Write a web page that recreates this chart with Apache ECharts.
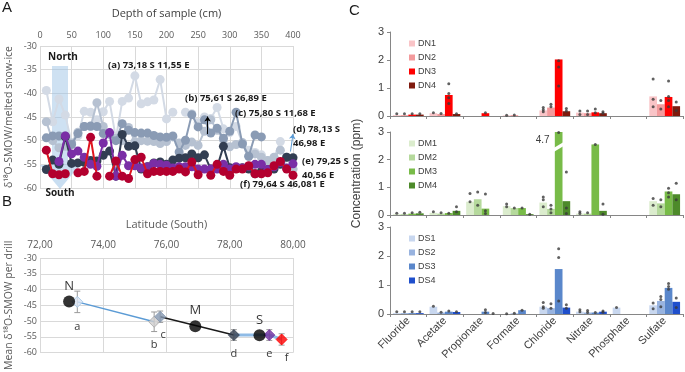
<!DOCTYPE html>
<html>
<head>
<meta charset="utf-8">
<script src="https://cdn.jsdelivr.net/npm/echarts@6/dist/echarts.min.js"></script>
<style>
html,body{margin:0;padding:0;background:#fff}
#main{width:685px;height:372px}
</style>
</head>
<body>
<div id="main"></div>
<script>
// ---- panel A: d18O profiles per drill (depth in cm)
var depths = [10,20,30,40,50,60,70,80,90,100,110,120,130,140,150,160,170,180,190,200,
              210,220,230,240,250,260,270,280,290,300,310,320,330,340,350,360,370,380,390,400];
var drillA = [-39.4,-46.0,-41.2,-44.6,-50.5,-49.0,-43.8,-44.0,-45.6,-43.9,-41.7,-49.5,-41.7,-41.0,-36.3,-42.2,-41.8,-41.4,-37.1,-45.4,
              -44.0,null,-44.0,-44.3,-46.2,-45.0,-45.3,-43.0,-47.5,-48.3,-47.0,-50.5,-52.0,-52.5,-53.0,-54.2,-53.6,-50.2,-55.8,-56.0];
var drillB = [-46.0,-50.0,-51.5,-51.2,-50.5,-48.2,-47.0,-47.0,-42.0,-47.0,-48.6,-49.5,-50.0,-47.2,-50.2,-50.0,-50.1,-50.2,-50.6,-50.2,
              -49.2,-50.5,-51.0,-50.3,-51.0,-48.0,-45.6,-47.8,-49.8,-51.3,-50.8,-50.4,-53.3,-52.8,-53.5,-54.2,-53.5,-52.0,-53.5,-56.0];
var drillC = [-49.4,-49.0,-49.0,-49.0,-50.8,-48.5,-47.0,-46.9,-47.0,-48.5,-48.6,-50.0,-46.4,-47.8,-48.3,-48.4,-48.4,-48.9,-49.2,-49.3,
              -49.0,-52.4,-49.9,-44.5,-47.1,-45.6,-48.4,-47.4,-49.5,-48.0,-44.0,-50.7,-53.3,-48.8,-49.2,null,null,null,null,null];
var drillD = [-56.1,-54.1,-55.0,-49.2,-54.8,-54.7,-54.6,-54.2,-54.3,-53.1,-52.2,-57.5,-48.7,-51.2,-51.1,-56.0,-55.5,-54.7,-54.5,-55.0,
              -54.1,-53.7,-53.6,-52.8,-53.6,-53.0,-56.0,-55.6,-51.2,-55.7,-55.7,-55.7,-56.0,-57.0,-56.5,-56.1,-56.0,-55.0,-53.5,-53.6];
var drillE = [null,null,-54.4,-49.0,-52.8,-52.2,-53.5,-55.0,-55.4,-50.5,-48.3,-57.5,-53.1,-55.3,-55.3,-55.8,-55.5,-54.8,-55.0,-55.2,
              -55.8,-55.5,-55.5,-55.5,-56.0,-56.0,-56.0,-56.0,-55.0,-56.0,-55.5,-55.8,-55.4,-55.0,-55.0,-56.1,-55.5,-54.6,-55.8,-54.9];
var drillF = [-52.0,-57.0,-57.2,-57.0,null,-56.8,-56.5,-49.3,-57.5,null,-57.5,-54.3,-57.5,-58.0,-54.0,-53.5,-57.0,-56.5,-56.5,-56.5,
              -56.5,-56.0,-56.6,-54.5,-57.2,null,-57.3,-55.0,-56.5,-57.3,-56.0,-56.0,-55.3,-57.0,-57.0,-56.8,-55.3,-54.4,-56.0,-57.3];

// ---- panel B: mean per drill vs latitude
var siteNames = ['a','b','c','d','e','f'];
var siteLat = [73.18,75.61,75.80,78.13,79.25,79.64];
var siteMean = [-43.9,-50.2,-48.6,-54.4,-54.4,-55.8];
var siteErr = [3.4,3.1,1.8,1.7,1.7,1.8];
var zoneNames = ['N','M','S'];
var zoneLat = [72.92,76.91,78.94];
var zoneMean = [-43.8,-51.6,-54.5];

// ---- panel C: ion concentrations (ppm)
var ions = ['Fluoride','Acetate','Propionate','Formate','Chloride','Nitrate','Phosphate','Sulfate'];
var dnNames = ['DN1','DN2','DN3','DN4'];
var dmNames = ['DM1','DM2','DM3','DM4'];
var dsNames = ['DS1','DS2','DS3','DS4'];
var dnBars = [
  [0.03,0.10,0,0.02,0.20,0.12,0,0.70],
  [0.03,0.07,0,0.03,0.30,0.10,0,0.42],
  [0.05,0.75,0.10,0,2.02,0.13,0,0.68],
  [0.05,0.07,0,0,0.17,0.10,0,0.35]
];
var dmBars = [
  [0.03,0.08,0.48,0.32,0.45,0.05,0,0.50],
  [0.03,0.05,0.57,0.25,0.22,0.05,0,0.42],
  [0.05,0.07,0.23,0.25,4.7,2.55,0,0.85],
  [0.06,0.15,0,0.03,0.50,0.15,0,0.75]
];
var dsBars = [
  [0.03,0.25,0,0,0.25,0.08,0.22,0.30],
  [0.03,0.05,0,0.02,0.20,0.05,0,0.45],
  [0.03,0.08,0.08,0.13,1.55,0.05,0,0.90],
  [0.03,0.07,0,0,0.22,0.08,0,0.42]
];
// replicate dots: [ion index, drill index, value]
var dnDots = [[0,0,0.08],[0,1,0.08],[0,2,0.08],[0,3,0.08],[1,0,0.12],[1,1,0.09],[1,2,1.15],[1,2,0.8],[1,2,0.65],[1,2,0.45],[1,3,0.08],
  [2,2,0.12],[3,0,0.03],[3,1,0.04],[4,0,0.3],[4,0,0.22],[4,0,0.15],[4,1,0.42],[4,1,0.33],[4,2,3.1],[4,2,1.97],[4,2,1.75],[4,2,1.07],
  [4,3,0.27],[4,3,0.18],[5,0,0.18],[5,0,0.05],[5,1,0.18],[5,1,0.05],[5,2,0.25],[5,2,0.12],[5,3,0.15],[5,3,0.1],
  [7,0,1.32],[7,0,0.6],[7,0,0.33],[7,1,0.55],[7,1,0.25],[7,2,1.25],[7,2,0.7],[7,2,0.55],[7,2,0.33],[7,3,0.5],[7,3,0.2]];
var dmDots = [[0,0,0.06],[0,1,0.06],[0,2,0.08],[0,3,0.1],[1,0,0.12],[1,1,0.08],[1,2,0.06],[1,3,0.3],[1,3,0.12],
  [2,0,0.78],[2,0,0.48],[2,1,0.83],[2,1,0.35],[2,2,0.76],[2,2,0.15],[2,2,0.05],[3,0,0.4],[3,0,0.3],[3,1,0.25],[3,2,0.25],[3,3,0.03],
  [4,0,0.65],[4,0,0.55],[4,0,0.3],[4,1,0.35],[4,1,0.22],[4,1,0.08],[4,2,2.98],[4,3,1.55],[4,3,0.25],[4,3,0.05],
  [5,0,0.12],[5,0,0.05],[5,1,0.08],[5,2,2.55],[5,3,0.4],[5,3,0.03],
  [7,0,0.6],[7,0,0.35],[7,1,0.55],[7,1,0.3],[7,2,0.97],[7,2,0.8],[7,2,0.65],[7,3,1.15],[7,3,0.55]];
var dsDots = [[0,0,0.08],[0,1,0.08],[0,2,0.08],[0,3,0.08],[1,0,0.27],[1,1,0.06],[1,2,0.1],[1,3,0.08],
  [2,2,0.15],[2,2,0.05],[2,3,0.02],[3,0,0.01],[3,1,0.03],[3,2,0.13],
  [4,0,0.4],[4,0,0.25],[4,0,0.2],[4,1,0.35],[4,1,0.2],[4,2,2.25],[4,2,1.95],[4,2,0.45],[4,3,0.32],[4,3,0.2],
  [5,0,0.15],[5,0,0.08],[5,1,0.12],[5,1,0.05],[5,2,0.05],[5,3,0.1],[5,3,0.06],[6,0,0.22],
  [7,0,0.38],[7,0,0.18],[7,1,0.6],[7,1,0.5],[7,1,0.25],[7,2,1.05],[7,2,0.95],[7,2,0.85],[7,3,0.55],[7,3,0.22]];

var chart = echarts.init(document.getElementById('main'));

var gray = '#595959';
var gridLine = {show: true, lineStyle: {color: '#d9d9d9', width: 1}};
var fontA = 'Open Sans';
var fontC = 'Liberation Sans';

var drillColors = ['#d3dae5','#b6c1d1','#8a9bb4','#323e52','#7a2ea6','#b3002f'];
var lineColors = ['#d3dae5','#b6c1d1','#8a9bb4','#323e52','#7a2ea6','#e0141e'];
var drills = [drillA, drillB, drillC, drillD, drillE, drillF];

var series = [];
drills.forEach(function (arr, k) {
  var s = {
    name: 'drill' + siteNames[k],
    type: 'line',
    xAxisIndex: 0, yAxisIndex: 0,
    data: depths.map(function (d, i) { return [d, arr[i]]; }),
    symbol: 'circle',
    symbolSize: 9,
    itemStyle: {color: drillColors[k]},
    lineStyle: {color: lineColors[k], width: 2},
    z: 2 + k
  };
  if (k === 1) {
    s.markLine = {
      silent: true, symbol: ['none', 'arrow'], symbolSize: 5,
      label: {show: false},
      lineStyle: {color: '#000', width: 1, type: 'solid'},
      data: [[{coord: [265, -48.6]}, {coord: [265, -44.9]}]]
    };
  }
  if (k === 3) {
    s.markLine = {
      silent: true, symbol: ['none', 'arrow'], symbolSize: 5,
      label: {show: false},
      lineStyle: {color: '#5b9bd5', width: 1, type: 'solid'},
      data: [[{coord: [396, -52.3]}, {coord: [400, -48.6]}], [{coord: [396, -54.7]}, {coord: [406, -54.6]}]]
    };
  }
  series.push(s);
});

// panel B lines
function seg(idx) { return idx.map(function (i) { return [siteLat[i], siteMean[i]]; }); }
series.push({type: 'line', xAxisIndex: 1, yAxisIndex: 1, data: seg([0, 1]), showSymbol: false,
  lineStyle: {color: '#5b9bd5', width: 1.5}, z: 2});
series.push({type: 'line', xAxisIndex: 1, yAxisIndex: 1, data: seg([2, 3]), showSymbol: false,
  lineStyle: {color: '#1a1a1a', width: 1.5}, z: 2});
series.push({type: 'line', xAxisIndex: 1, yAxisIndex: 1, data: seg([3, 4, 5]), showSymbol: false,
  lineStyle: {color: '#8fbbe6', width: 3}, z: 2});
series.push({
  type: 'custom', xAxisIndex: 1, yAxisIndex: 1, z: 3,
  data: siteLat.map(function (l, i) { return [l, siteMean[i] - siteErr[i], siteMean[i] + siteErr[i]]; }),
  encode: {x: 0, y: [1, 2]},
  renderItem: function (params, api) {
    var top = api.coord([api.value(0), api.value(2)]);
    var bot = api.coord([api.value(0), api.value(1)]);
    var st = {stroke: '#9a9a9a', lineWidth: 1};
    return {type: 'group', children: [
      {type: 'line', shape: {x1: top[0], y1: top[1], x2: bot[0], y2: bot[1]}, style: st},
      {type: 'line', shape: {x1: top[0] - 3, y1: top[1], x2: top[0] + 3, y2: top[1]}, style: st},
      {type: 'line', shape: {x1: bot[0] - 3, y1: bot[1], x2: bot[0] + 3, y2: bot[1]}, style: st}
    ]};
  }
});
var siteFill = ['#dae3f3','#d0cece','#8497b0','#333f50','#7030a0','#ff0000'];
var siteBorder = ['#9dc3e6','#a6a6a6','#8497b0','#333f50','#7030a0','#ff0000'];
series.push({
  type: 'scatter', xAxisIndex: 1, yAxisIndex: 1, z: 4,
  symbol: 'diamond', symbolSize: 11,
  data: siteLat.map(function (l, i) {
    return {value: [l, siteMean[i]], name: siteNames[i],
      itemStyle: {color: siteFill[i], borderColor: siteBorder[i], borderWidth: 1},
      label: {distance: Math.round(siteErr[i] * 3.5) + 1, offset: [i === 5 ? 5 : (i === 2 ? 3 : 0), 0]}};
  }),
  label: {show: true, position: 'bottom', formatter: '{b}', color: '#000', fontSize: 11, fontFamily: fontA}
});
series.push({
  type: 'scatter', xAxisIndex: 1, yAxisIndex: 1, z: 5,
  symbol: 'circle', symbolSize: 12,
  itemStyle: {color: '#000'},
  data: zoneLat.map(function (l, i) { return {value: [l, zoneMean[i]], name: zoneNames[i]}; }),
  label: {show: true, position: 'top', distance: 3, formatter: '{b}', color: '#000', fontSize: 13, fontFamily: fontA}
});

// panel C bars and dots
var groups = [
  {names: dnNames, bars: dnBars, dots: dnDots, colors: ['#f9c4c7','#f39a9c','#ff0000','#7f1a0e']},
  {names: dmNames, bars: dmBars, dots: dmDots, colors: ['#dbeccd','#b5d99c','#78bb48','#4d8a2a']},
  {names: dsNames, bars: dsBars, dots: dsDots, colors: ['#c8d7ef','#98b3df','#5a87cb','#1f4fcc']}
];
var catGap = 0.16;
var barW = (1 - catGap) / 4;
groups.forEach(function (g, k) {
  g.names.forEach(function (n, j) {
    series.push({
      name: n, type: 'bar', xAxisIndex: 2 + k, yAxisIndex: 2 + k,
      data: g.bars[j], barGap: '0%', barCategoryGap: (catGap * 100) + '%',
      itemStyle: {color: g.colors[j]}, z: 2
    });
  });
  series.push({
    type: 'scatter', xAxisIndex: 5 + k, yAxisIndex: 2 + k, z: 5,
    symbol: 'circle', symbolSize: 3, itemStyle: {color: '#3a3a3a'},
    data: g.dots.map(function (d) {
      return [d[0] + 0.5 + (d[1] - 1.5) * barW, d[2]];
    })
  });
});

var gridsC = [
  {left: 390, top: 32, width: 293, height: 84},
  {left: 390, top: 132, width: 293, height: 83},
  {left: 390, top: 227, width: 293, height: 87}
];

var xAxes = [
  {gridIndex: 0, type: 'value', position: 'top', min: 0, max: 400, interval: 50,
   name: 'Depth of sample (cm)', nameLocation: 'middle', nameGap: 27,
   nameTextStyle: {color: '#404040', fontSize: 11, fontFamily: fontA},
   axisLine: {show: false}, axisTick: {show: false},
   axisLabel: {color: gray, fontSize: 9, fontFamily: fontA, margin: 6},
   splitLine: gridLine},
  {gridIndex: 1, type: 'value', position: 'top', min: 72, max: 80, interval: 2,
   name: 'Latitude (South)', nameLocation: 'middle', nameGap: 28,
   nameTextStyle: {color: gray, fontSize: 11, fontFamily: fontA},
   axisLine: {show: false}, axisTick: {show: false},
   axisLabel: {color: gray, fontSize: 10, fontFamily: fontA, margin: 8,
     formatter: function (v) { return v.toFixed(2).replace('.', ','); }},
   splitLine: gridLine}
];
[0, 1, 2].forEach(function (k) {
  xAxes.push({gridIndex: 2 + k, type: 'category', data: ions,
    axisLine: {lineStyle: {color: '#868686'}},
    axisTick: {show: true, interval: 0, length: 3, lineStyle: {color: '#868686'}},
    axisLabel: {show: k === 2, interval: 0, rotate: 45, color: '#404040', fontSize: 11, fontFamily: fontC, margin: 5},
    splitLine: {show: false}});
});
[0, 1, 2].forEach(function (k) {
  xAxes.push({gridIndex: 2 + k, type: 'value', min: 0, max: 8, show: false});
});

var yAxes = [
  {gridIndex: 0, type: 'value', min: -60, max: -30, interval: 5,
   name: 'δ¹⁸O-SMOW/melted snow-ice', nameLocation: 'middle', nameGap: 25,
   nameTextStyle: {color: gray, fontSize: 10.5, fontFamily: fontA},
   axisLine: {show: false}, axisTick: {show: false},
   axisLabel: {color: gray, fontSize: 9, fontFamily: fontA, margin: 3},
   splitLine: gridLine},
  {gridIndex: 1, type: 'value', min: -60, max: -30, interval: 5,
   name: 'Mean δ¹⁸O-SMOW per drill', nameLocation: 'middle', nameGap: 25,
   nameTextStyle: {color: gray, fontSize: 10.5, fontFamily: fontA},
   axisLine: {show: false}, axisTick: {show: false},
   axisLabel: {color: gray, fontSize: 9, fontFamily: fontA, margin: 3},
   splitLine: gridLine}
];
[0, 1, 2].forEach(function (k) {
  yAxes.push({gridIndex: 2 + k, type: 'value', min: 0, max: 3, interval: 1,
    name: k === 1 ? 'Concentration (ppm)' : '', nameLocation: 'middle', nameGap: 27,
    nameTextStyle: {color: '#404040', fontSize: 12, fontFamily: fontC},
    axisLine: {show: true, lineStyle: {color: '#868686'}},
    axisTick: {show: true, length: 3, lineStyle: {color: '#868686'}},
    axisLabel: {color: '#404040', fontSize: 11, fontFamily: fontC, margin: 6},
    splitLine: {show: false}});
});

var legends = groups.map(function (g, k) {
  return {data: g.names, orient: 'vertical', left: 404, top: gridsC[k].top + 2,
    itemWidth: 6, itemHeight: 6, itemGap: 5, icon: 'rect',
    textStyle: {color: '#404040', fontSize: 9, fontFamily: fontC, padding: [0, 0, 0, -2]}};
});

function txt(id, t, x, y, extra) {
  var st = {text: t, x: x, y: y, fill: '#1a1a1a', fontSize: 9.5, fontFamily: fontA, fontWeight: 'bold'};
  for (var k in extra) st[k] = extra[k];
  return {id: id, type: 'text', z: 20, style: st};
}

chart.setOption({
  animation: false,
  grid: [
    {left: 40, top: 46, width: 253, height: 142},
    {left: 40, top: 258, width: 253, height: 105}
  ].concat(gridsC),
  legend: legends,
  xAxis: xAxes,
  yAxis: yAxes,
  series: series,
  graphic: [
    {id: 'arrowBody', type: 'rect', z: 1, shape: {x: 52, y: 66, width: 16, height: 99}, style: {fill: 'rgba(157,195,230,0.5)'}},
    {id: 'arrowHead', type: 'polygon', z: 1, shape: {points: [[40, 165], [80, 165], [60, 189]]}, style: {fill: 'rgba(157,195,230,0.55)'}},
    txt('north', 'North', 63, 52, {align: 'center', fontSize: 10}),
    txt('south', 'South', 60, 188, {align: 'center', fontSize: 10}),
    txt('la', '(a) 73,18 S 11,55 E', 108, 60),
    txt('lb', '(b) 75,61 S 26,89 E', 185, 93),
    txt('lc', '(c) 75,80 S 11,68 E', 235, 108),
    txt('ld', '(d) 78,13 S\n46,98 E', 293, 122, {lineHeight: 14}),
    txt('le', '(e) 79,25 S\n40,56 E', 302, 154, {lineHeight: 14}),
    txt('lf', '(f) 79,64 S 46,081 E', 240, 179),
    txt('pA', 'A', 2, 0, {fontSize: 15, fontWeight: 'normal', fontFamily: fontC}),
    txt('pB', 'B', 2, 194, {fontSize: 15, fontWeight: 'normal', fontFamily: fontC}),
    txt('pC', 'C', 349, 3, {fontSize: 15, fontWeight: 'normal', fontFamily: fontC})
  ]
});

// axis break on the 4.7 chloride bar (DM3)
var bx = 4 + 0.5 + 0.5 * barW;
var pLo = chart.convertToPixel({xAxisIndex: 6, yAxisIndex: 3}, [bx, 2.35]);
var pHi = chart.convertToPixel({xAxisIndex: 6, yAxisIndex: 3}, [bx, 3]);
var hw = 5;
chart.setOption({
  graphic: [
    {id: 'brk', type: 'polygon', z: 30, shape: {points: [[pLo[0] - hw, pLo[1] + 2], [pLo[0] + hw, pLo[1] - 4], [pLo[0] + hw, pLo[1] - 8], [pLo[0] - hw, pLo[1] - 2]]},
     style: {fill: '#fff'}},
    {id: 'brkLabel', type: 'text', z: 30, style: {text: '4.7', x: pHi[0] - 9, y: pHi[1] + 3, align: 'right', fill: '#404040', fontSize: 10, fontFamily: fontC}}
  ]
});
</script>
</body>
</html>
